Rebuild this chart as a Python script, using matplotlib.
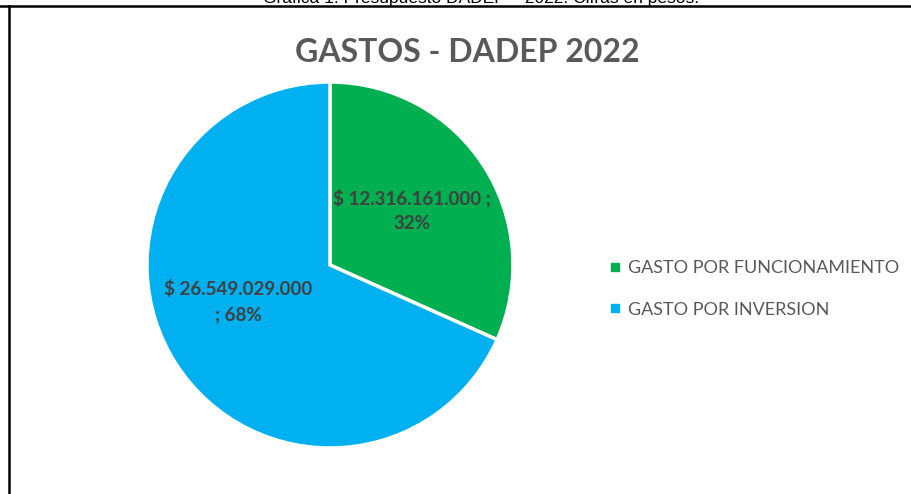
import matplotlib
matplotlib.use("Agg")
import matplotlib.pyplot as plt
from matplotlib.lines import Line2D

# datos del grafico
categorias = ["GASTO POR FUNCIONAMIENTO", "GASTO POR INVERSION"]
valores = [12316161000, 26549029000]
etiquetas = ["$ 12.316.161.000 ;\n32%", "$ 26.549.029.000\n; 68%"]
colores = ["#00B050", "#00B0F0"]

titulo = "GASTOS - DADEP 2022"
leyenda_txt = "Gráfica 1. Presupuesto DADEP – 2022. Cifras en pesos."

# donde van las etiquetas dentro del pie (unidades del eje, radio = 1)
pos_etiquetas = [(0.45, 0.30), (-0.50, -0.20)]

plt.rcParams['font.family'] = ['Lato', 'DejaVu Sans']

fig = plt.figure(figsize=(9.12, 4.94), dpi=100)
fig.patch.set_facecolor("white")

# pie
ax = fig.add_axes([147/912, 46/494, 366/912, 366/494])
wedges, textos = ax.pie(valores, colors=colores, startangle=90, counterclock=False,
                        radius=1.0, wedgeprops=dict(edgecolor="white", linewidth=2.5))
for (x, y), lab in zip(pos_etiquetas, etiquetas):
    ax.text(x, y, lab, ha="center", va="center",
            fontsize=13.5, fontweight="bold", color="#404040", linespacing=1.6)
ax.set_xlim(-1, 1)
ax.set_ylim(-1, 1)
ax.set_aspect("equal")
ax.axis("off")

# titulo
fig.text(467/912, 1 - 52/494, titulo, ha="center", va="center",
         fontsize=23, fontweight="bold", color="#595959")

# leyenda
handles = [Line2D([], [], marker="s", linestyle="none", markersize=6,
                  markerfacecolor=c, markeredgecolor=c) for c in colores]
leg = fig.legend(handles, categorias, loc="center left",
                 bbox_to_anchor=(592/912, 1 - 289/494), frameon=False,
                 fontsize=13, labelspacing=1.4, handletextpad=0.3,
                 handlelength=0.8, labelcolor="#595959")

# marco y texto cortado arriba
fig.add_artist(Line2D([0, 1], [1 - 6.5/494, 1 - 6.5/494], color="black", lw=1.8))
fig.add_artist(Line2D([9.5/912, 9.5/912], [0, 1 - 6.5/494], color="black", lw=1.8))
fig.text(481/912, 1 - 3/494, leyenda_txt, ha="center", va="baseline",
         fontsize=12.5, color="black", family=["Liberation Sans", "DejaVu Sans"])

fig.savefig("out.png", dpi=100, facecolor="white")
